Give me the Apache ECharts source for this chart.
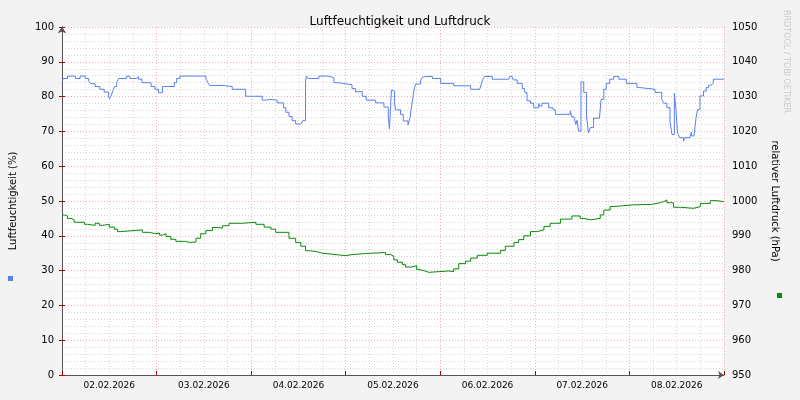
<!DOCTYPE html>
<html><head><meta charset="utf-8">
<script src="https://cdn.jsdelivr.net/npm/echarts@6/dist/echarts.min.js"></script>
<style>html,body{margin:0;background:#f3f3f3}#c{width:800px;height:400px}</style>
</head><body><div id="c"></div>
<script>
const dayLabels = ["02.02.2026","03.02.2026","04.02.2026","05.02.2026","06.02.2026","07.02.2026","08.02.2026"];
const humHours = [0,0.3,1.4,3.4,4.6,5.9,6.8,7.3,8.4,9.6,10.7,11.8,12,12.4,12.8,13.3,13.9,14.4,16.4,17.2,18.8,19.4,20.3,22.6,23.6,24.5,25.5,28.5,29.1,29.9,36.5,37,37.5,40.7,43.2,46.6,50.8,51.9,52.8,54.6,56.2,56.8,57.6,58.4,59.3,60.6,61.1,61.8,62,62.5,65.2,67.6,69,70.3,71.8,73.6,74.5,74.9,76.2,77.2,79.6,81.7,82.8,83.1,83.6,83.8,84.4,84.6,85.1,85.9,86.1,86.6,86.8,87.8,88,88.3,88.6,89,89.3,89.7,90.2,91,91.4,91.8,92.3,94,96.1,99.4,103.7,106,106.4,106.9,107.2,109.2,113.4,113.6,114.2,114.5,115.5,116.8,117.4,118,118.9,119.7,121,121.2,121.8,122.3,123.5,124.6,125.2,129,129.3,129.9,130.4,130.7,131.1,131.7,132.4,133.1,133.6,134.1,134.9,136.4,136.8,137.5,138.1,139,140,141.3,143.2,145.9,146.6,150.5,151,152.2,152.7,153.5,154.3,154.8,155.4,155.8,156.2,156.7,157,157.7,158.1,159.4,159.7,159.8,160.4,160.9,161.3,161.9,162.8,163.5,164.1,164.7,165.3,168];
const humValues = [84.2,85.2,85.9,85.2,85.9,85.2,84.4,83.7,82.9,82.1,81.3,80.1,79.4,80.1,81.3,82.9,84.2,85.2,85.9,85.2,85.7,85,84,82.9,82.1,81.1,82.9,84,85.2,85.9,85.2,84,83.2,82.9,82.1,80.1,79,79.2,79,78.2,76.8,75.5,74.3,73.1,72.1,72.1,73.1,84.2,85.9,85.2,85.9,85.4,84,83.7,83.4,82.3,81.3,81.5,80.1,79,78.2,77,74.1,70.7,81.9,81.6,78.3,76.2,76.2,74.9,74.9,73,73,71.8,71.8,73.9,76.3,79.4,81.6,83.6,83.6,84.5,85.5,85.8,85.8,85.2,83.8,83.1,82.1,82.1,83.6,85.2,85.8,85,85,85.8,85.8,84.8,83.8,82.3,81.2,78.8,78.1,76.8,78,77.3,78.1,78.1,76.8,76.2,74.9,75.9,74.2,74.2,72,73.2,70.1,84.2,81.2,74.4,69.6,71.1,73.8,73.8,79.2,82.1,83.8,85,85.8,85,83.8,82.6,82.1,81.2,81.2,79.2,78.1,76.8,72.7,69.1,81,76.3,69.6,68.2,68.2,67.2,68.2,68.2,69.8,68.7,68.7,73.9,76.3,80.2,81.6,82.6,83.3,83.8,85,85];
const presHours = [0,0.6,1.4,2.3,3.1,5.7,6.5,8.4,9.5,10.3,12,13.3,14.1,14.9,15.4,20.4,22.1,23.8,24.7,25.5,26.4,27.6,28.9,31.4,32.3,34,35.2,36.5,38.2,39.4,40.7,42.4,45.8,49.2,51.3,53,54.2,57.6,59.3,60.6,61.8,63.1,64.8,66,70.3,72,73.6,77,82.1,83.4,84.2,85.1,86.4,87.2,88.5,88.9,90,90.6,91.8,93.1,95.6,98.2,99.4,100.7,102.4,103.7,105.4,107.9,111.3,112.5,114.7,115.9,117.2,118.9,120.6,122.3,123.9,126.5,129.4,131.5,132.4,134.1,136.6,137.5,139.1,140,145.1,149.3,151,152.7,153.5,155.2,156.9,160.3,162,164.5,166.2,168];
const presValues = [996,995.7,995,994.6,993.9,993.3,993,993.6,993,993.3,992.5,991.9,991.2,991.5,991.7,991,990.6,990.8,990.2,990.6,989.8,989,988.4,988.1,988.2,989.3,990.6,991.5,992.4,992.2,992.9,993.6,993.9,993.3,992.5,991.9,991,989.3,988.1,987,985.7,985.4,985,984.5,984.3,984.6,984.9,985.2,984.6,984.1,983.1,982.4,981.7,981,981.2,981.4,980.3,980,979.5,979.7,979.9,979.7,980.5,982,982.7,983.6,984.4,985,985.8,987,988.1,988.9,990,991.2,991.7,992.7,993.6,994.8,995.7,995,994.6,995,996,997.4,998.4,998.9,999,999.3,999.8,1000.3,999.5,998.2,997.9,998.4,999.3,1000.1,999.8,999.8];
const humData = humHours.map((h,i)=>[h,humValues[i]]);
const presData = presHours.map((h,i)=>[h,presValues[i]]);
const font = 'DejaVu Sans';
const minor = {show:true,lineStyle:{color:'#d6d6d6',type:[1,2]}};
const major = {show:true,lineStyle:{color:'#eeb0b0',type:[1,2]}};
const chart = echarts.init(document.getElementById('c'));
chart.setOption({
  animation:false,
  backgroundColor:'#f3f3f3',
  textStyle:{fontFamily:font},
  title:{text:'Luftfeuchtigkeit und Luftdruck',left:'center',top:11,textStyle:{fontFamily:font,fontSize:12,fontWeight:'normal',color:'#000'}},
  grid:{left:61,right:76,top:27,bottom:25,show:true,backgroundColor:'#fff',borderWidth:0},
  graphic:[
    {type:'rect',left:8,top:276,shape:{width:5,height:5},style:{fill:'#5a7fef'}},
    {type:'rect',left:777,top:293,shape:{width:5,height:5},style:{fill:'#0a8a0a'}},
    {type:'text',x:790,y:10,rotation:-Math.PI/2,style:{text:'RRDTOOL / TOBI OETIKER',fill:'#c8c8c8',font:'8px DejaVu Sans'}}
  ],
  xAxis:[
    {type:'value',min:0,max:168,interval:24,axisLabel:{show:false},
     axisLine:{lineStyle:{color:'#555'},symbol:['none','arrow'],symbolSize:[6,6]},axisTick:{show:true,length:-4,lineStyle:{color:'#a00'}},
     splitLine:major,minorTick:{show:false,splitNumber:4},minorSplitLine:minor},
    {type:'value',min:0,max:168,interval:12,position:'bottom',axisLine:{show:false},axisTick:{show:false},splitLine:{show:false},
     axisLabel:{fontSize:9,color:'#000',margin:6,formatter:v=>(v%24===12)?dayLabels[(v-12)/24]:''}}
  ],
  yAxis:[
    {type:'value',min:0,max:100,interval:10,name:'Luftfeuchtigkeit (%)',nameLocation:'middle',nameGap:44,nameTextStyle:{fontSize:10,color:'#000'},
     axisLabel:{fontSize:10,color:'#000'},axisLine:{show:true,lineStyle:{color:'#555'},symbol:['none','arrow'],symbolSize:[6,6]},axisTick:{show:true,length:-3,lineStyle:{color:'#a00'}},
     splitLine:major,minorTick:{show:false,splitNumber:5},minorSplitLine:minor},
    {type:'value',min:950,max:1050,interval:10,name:'relativer Luftdruck (hPa)',nameLocation:'middle',nameGap:46,nameRotate:-90,nameTextStyle:{fontSize:10,color:'#000'},
     axisLabel:{fontSize:10,color:'#000',formatter:v=>String(v)},axisLine:{show:true,lineStyle:{color:'#555'},symbol:['none','arrow'],symbolSize:[6,6]},axisTick:{show:true,length:-3,lineStyle:{color:'#a00'}},
     splitLine:{show:false}}
  ],
  series:[
    {type:'line',name:'Luftfeuchtigkeit',step:'end',data:humData,showSymbol:false,lineStyle:{color:'#5a7fef',width:1},xAxisIndex:0,yAxisIndex:0},
    {type:'line',name:'Luftdruck',step:'end',data:presData,showSymbol:false,lineStyle:{color:'#0a8a0a',width:1},xAxisIndex:0,yAxisIndex:1}
  ]
});
</script></body></html>
